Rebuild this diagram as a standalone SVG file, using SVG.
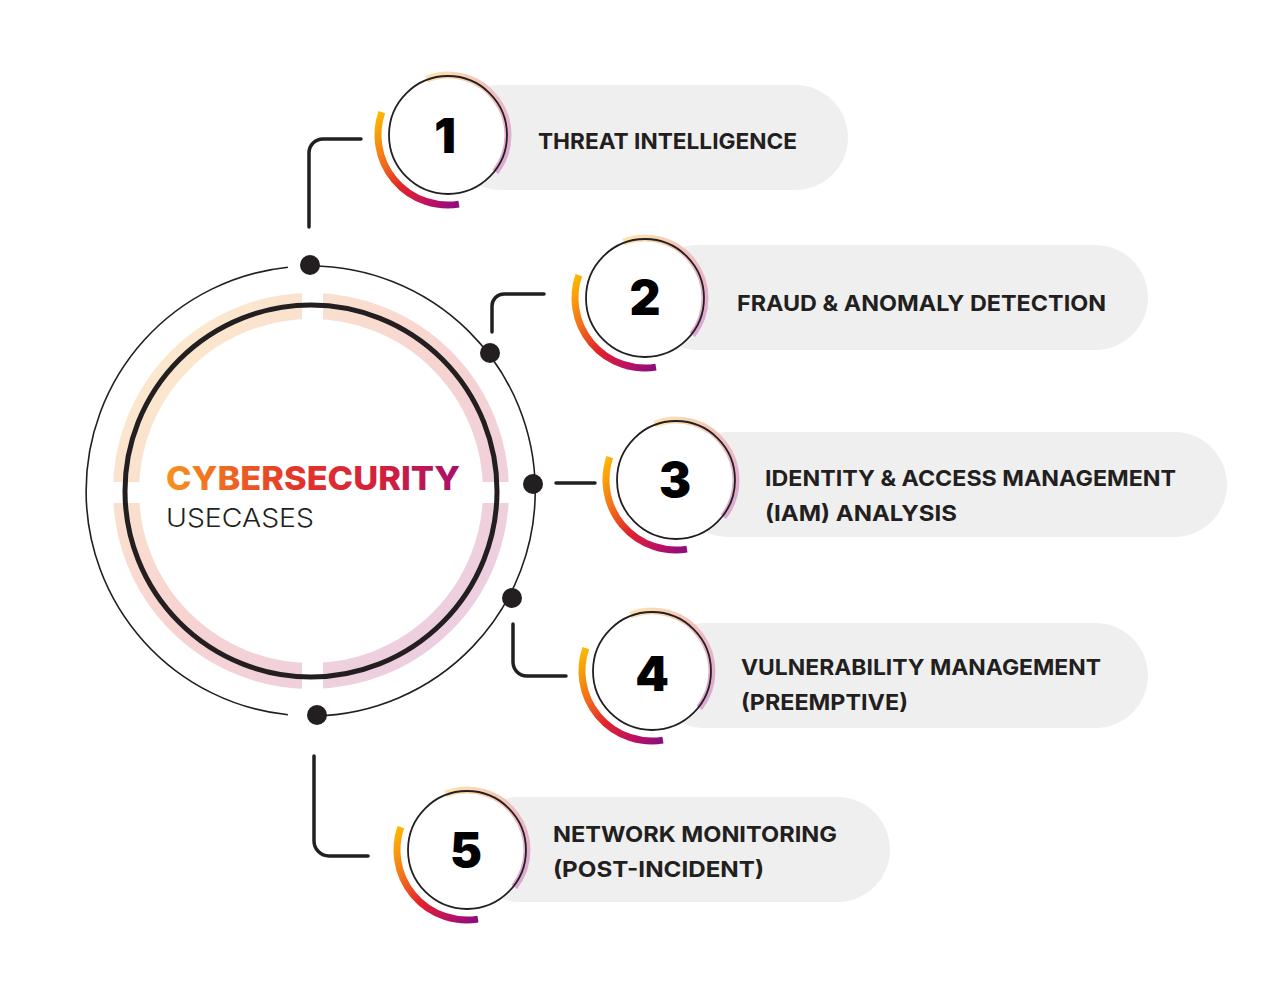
<svg xmlns="http://www.w3.org/2000/svg" xmlns:xlink="http://www.w3.org/1999/xlink" width="1284" height="996" viewBox="0 0 1284 996">
<defs>
<linearGradient id="gArc" x1="0" y1="0" x2="1" y2="1">
<stop offset="0" stop-color="#fcbb00"/>
<stop offset="0.3" stop-color="#f2701c"/>
<stop offset="0.55" stop-color="#e1232b"/>
<stop offset="0.8" stop-color="#bd1260"/>
<stop offset="1" stop-color="#8a0e80"/>
</linearGradient>
<linearGradient id="gPale" x1="0" y1="0" x2="1" y2="1">
<stop offset="0" stop-color="#fde4b0"/>
<stop offset="0.4" stop-color="#f4c3b6"/>
<stop offset="0.75" stop-color="#e6b2cb"/>
<stop offset="1" stop-color="#d8a5d2"/>
</linearGradient>
<linearGradient id="gBand" x1="0" y1="0" x2="1" y2="1">
<stop offset="0" stop-color="#fdefcc"/>
<stop offset="0.5" stop-color="#f7d3d1"/>
<stop offset="1" stop-color="#e8cde6"/>
</linearGradient>
<linearGradient id="gTitle" x1="0" y1="0" x2="1" y2="0">
<stop offset="0" stop-color="#f7931e"/>
<stop offset="0.45" stop-color="#e3342a"/>
<stop offset="0.75" stop-color="#d11f3c"/>
<stop offset="1" stop-color="#a5106e"/>
</linearGradient>
<mask id="bandMask">
<rect x="0" y="0" width="1284" height="996" fill="#fff"/>
<rect x="302" y="250" width="21" height="480" fill="#000"/>
<rect x="80" y="482" width="480" height="21" fill="#000"/>
</mask>
<g id="badge">
<circle cx="0" cy="0" r="60" fill="#fff"/>
<path d="M-66.19 -22.79 A70 70 0 0 0 10.95 69.14" fill="none" stroke="url(#gArc)" stroke-width="7"/>
<path d="M-21.5 -56.0 A60 60 0 0 1 47.3 36.9" fill="none" stroke="url(#gPale)" stroke-width="7"/>
<circle cx="0" cy="0" r="59" fill="none" stroke="#231f20" stroke-width="1.8"/>
</g>
</defs>
<style>
.pill{fill:#efefef}
.lbl{font-family:Inter,"Liberation Sans",sans-serif;font-weight:700;font-size:22px;fill:#231f20}
.num{font-family:Inter,"Liberation Sans",sans-serif;font-weight:900;font-size:48px;fill:#000;text-anchor:middle}
.conn{fill:none;stroke:#231f20;stroke-width:3.5;stroke-linecap:round}
.dot{fill:#231f20}
</style>
<rect width="1284" height="996" fill="#fff"/>

<g id="hub">
<circle cx="311" cy="491" r="185" fill="none" stroke="url(#gBand)" stroke-width="26" mask="url(#bandMask)"/>
<circle cx="311" cy="491" r="186" fill="none" stroke="#231f20" stroke-width="5"/>
<path d="M311 266 A225 225 0 0 1 316.9 715.9" fill="none" stroke="#231f20" stroke-width="1.6"/>
<path d="M287.9 714.8 A225 225 0 0 1 287.9 267.2" fill="none" stroke="#231f20" stroke-width="1.6"/>
<text x="166" y="490" font-family="Inter,'Liberation Sans',sans-serif" font-weight="800" font-size="33" fill="url(#gTitle)" textLength="294" lengthAdjust="spacingAndGlyphs">CYBERSECURITY</text>
<text x="166" y="527" font-family="Inter,'Liberation Sans',sans-serif" font-weight="300" font-size="26" fill="#231f20" textLength="148" lengthAdjust="spacingAndGlyphs">USECASES</text>
</g>

<g id="connectors">
<path class="conn" d="M309 227 V153 A14 14 0 0 1 323 139 H361"/>
<path class="conn" d="M492 332 V306 A12 12 0 0 1 504 294 H544"/>
<path class="conn" d="M556 483 H595"/>
<path class="conn" d="M513 624 V662 A14 14 0 0 0 527 676 H566"/>
<path class="conn" d="M314 756 V841 A15 15 0 0 0 329 856 H368"/>
<circle class="dot" cx="310" cy="265" r="10"/>
<circle class="dot" cx="490" cy="353" r="10"/>
<circle class="dot" cx="533" cy="484" r="10"/>
<circle class="dot" cx="512" cy="598" r="10"/>
<circle class="dot" cx="317" cy="715" r="10"/>
</g>

<g id="node1">
<rect class="pill" x="448" y="85" width="400" height="105" rx="52.5"/>
<use href="#badge" xlink:href="#badge" x="448" y="135"/>
<text class="num" x="445" y="153">1</text>
<text class="lbl" x="538" y="149" textLength="259" lengthAdjust="spacingAndGlyphs">THREAT INTELLIGENCE</text>
</g>

<g id="node2">
<rect class="pill" x="645" y="245" width="503" height="105" rx="52.5"/>
<use href="#badge" xlink:href="#badge" x="645" y="298"/>
<text class="num" x="645" y="315">2</text>
<text class="lbl" x="737" y="311" textLength="369" lengthAdjust="spacingAndGlyphs">FRAUD &amp; ANOMALY DETECTION</text>
</g>

<g id="node3">
<rect class="pill" x="676" y="432" width="551" height="105" rx="52.5"/>
<use href="#badge" xlink:href="#badge" x="676" y="480"/>
<text class="num" x="675" y="497">3</text>
<text class="lbl" x="765" y="486" textLength="411" lengthAdjust="spacingAndGlyphs">IDENTITY &amp; ACCESS MANAGEMENT</text>
<text class="lbl" x="765" y="521" textLength="192" lengthAdjust="spacingAndGlyphs">(IAM) ANALYSIS</text>
</g>

<g id="node4">
<rect class="pill" x="652" y="623" width="496" height="105" rx="52.5"/>
<use href="#badge" xlink:href="#badge" x="652" y="671"/>
<text class="num" x="652" y="691">4</text>
<text class="lbl" x="741" y="675" textLength="360" lengthAdjust="spacingAndGlyphs">VULNERABILITY MANAGEMENT</text>
<text class="lbl" x="741" y="710" textLength="167" lengthAdjust="spacingAndGlyphs">(PREEMPTIVE)</text>
</g>

<g id="node5">
<rect class="pill" x="467" y="797" width="423" height="105" rx="52.5"/>
<use href="#badge" xlink:href="#badge" x="467" y="850"/>
<text class="num" x="466" y="867">5</text>
<text class="lbl" x="553" y="842" textLength="284" lengthAdjust="spacingAndGlyphs">NETWORK MONITORING</text>
<text class="lbl" x="553" y="877" textLength="211" lengthAdjust="spacingAndGlyphs">(POST-INCIDENT)</text>
</g>
</svg>
